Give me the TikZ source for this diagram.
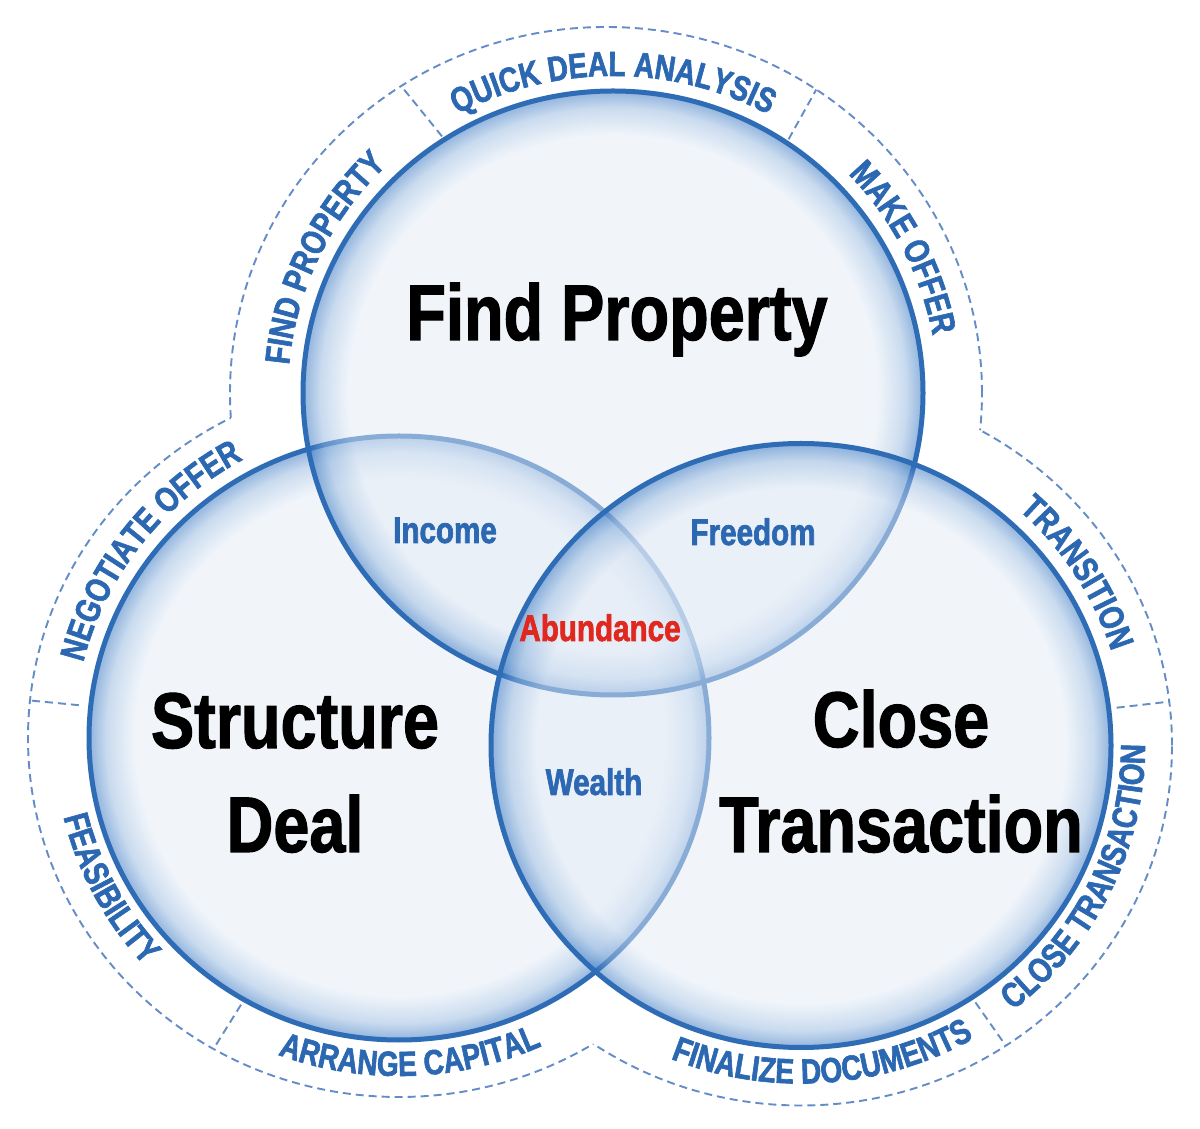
\documentclass[tikz,border=0pt]{standalone}
\usepackage{fontspec}
\usetikzlibrary{calc,decorations.text}
\newfontfamily\cbold{Liberation Sans}[FakeStretch=0.82, BoldFeatures={FakeBold=1.4}]
\newfontfamily\rbold{Liberation Sans}[FakeStretch=0.80, BoldFeatures={FakeBold=1.8}]
\definecolor{cblue}{RGB}{46,108,182}
\definecolor{lblue}{RGB}{44,104,178}
\definecolor{ared}{RGB}{224,40,30}
\definecolor{dblue}{RGB}{100,140,198}
\definecolor{gpale}{RGB}{229,237,247}
\definecolor{gmid}{RGB}{150,185,224}
\definecolor{grim}{RGB}{35,105,189}
\pgfdeclareradialshading{glow}{\pgfpoint{0bp}{0bp}}{color(0bp)=(gpale); color(21.3bp)=(gpale); color(23.6bp)=(gmid); color(25bp)=(grim); color(50bp)=(grim)}
\newcommand\titlefont{\cbold\bfseries\fontsize{79}{90}\selectfont}
\newcommand\midfont{\rbold\bfseries\fontsize{37}{40}\selectfont}
\newcommand\ringfont{\rbold\bfseries\fontsize{35}{36}\selectfont}
\begin{document}
\begin{tikzpicture}[x=1pt,y=1pt,
  ringdash/.style={draw=dblue, line width=1.9pt, dash pattern=on 8pt off 5pt},
  glowfill/.style={shading=glow, opacity=0.5},
  rim/.style={draw=cblue, line width=5pt},
  title/.style={font=\titlefont, text=black, anchor=base, inner sep=0pt},
  midlabel/.style={font=\midfont, text=lblue, anchor=base, inner sep=0pt},
  ringtext/.style={decorate, decoration={text along path, text align=center, text color=lblue, text={|\ringfont|#1}}}
]
\fill[white] (0,0) rectangle (1200,1128);
\useasboundingbox (0,0) rectangle (1200,1128);

\coordinate (T) at (613,735);
\coordinate (L) at (399,390);
\coordinate (R) at (801,382.5);
\coordinate (Tr) at (606,735);

% outer dashed contour
\begin{scope}
  \clip (-20,-20) -- (1220,-20) -- (1220,1150) -- (-20,1150) -- cycle
        (770,390) arc[start angle=0, end angle=-360, x radius=371pt, y radius=359pt];
  \clip (-20,-20) -- (1220,-20) -- (1220,1150) -- (-20,1150) -- cycle
        (1172,382.5) arc[start angle=0, end angle=-360, x radius=371pt, y radius=360pt];
  \draw[ringdash] (Tr) ellipse [x radius=376pt, y radius=366pt];
\end{scope}
\begin{scope}
  \clip (-20,-20) -- (1220,-20) -- (1220,1150) -- (-20,1150) -- cycle
        (982,735) arc[start angle=0, end angle=-360, x radius=376pt, y radius=366pt];
  \clip (-20,-20) -- (1220,-20) -- (1220,1150) -- (-20,1150) -- cycle
        (1172,382.5) arc[start angle=0, end angle=-360, x radius=371pt, y radius=360pt];
  \draw[ringdash] (L) ellipse [x radius=371pt, y radius=359pt];
\end{scope}
\begin{scope}
  \clip (-20,-20) -- (1220,-20) -- (1220,1150) -- (-20,1150) -- cycle
        (982,735) arc[start angle=0, end angle=-360, x radius=376pt, y radius=366pt];
  \clip (-20,-20) -- (1220,-20) -- (1220,1150) -- (-20,1150) -- cycle
        (770,390) arc[start angle=0, end angle=-360, x radius=371pt, y radius=359pt];
  \draw[ringdash] (R) ellipse [x radius=371pt, y radius=360pt];
\end{scope}

% dividers
\coordinate (d1a) at ($(T)+(123:314 and 306)$);
\coordinate (d1b) at ($(Tr)+(123:376 and 366)$);
\coordinate (d2a) at ($(T)+(56:314 and 306)$);
\coordinate (d2b) at ($(Tr)+(56:376 and 366)$);
\coordinate (d3a) at ($(L)+(174:322 and 314)$);
\coordinate (d3b) at ($(L)+(174:371 and 359)$);
\coordinate (d4a) at ($(L)+(240:316 and 308)$);
\coordinate (d4b) at ($(L)+(240:371 and 359)$);
\coordinate (d6a) at ($(R)+(303.5:316 and 308)$);
\coordinate (d6b) at ($(R)+(303.5:371 and 360)$);
\coordinate (d7a) at ($(R)+(7:318 and 310)$);
\coordinate (d7b) at ($(R)+(7:371 and 360)$);
\draw[ringdash] (d1a) -- (d1b);
\draw[ringdash] (d2a) -- (d2b);
\draw[ringdash] (d3a) -- (d3b);
\draw[ringdash] (d4a) -- (d4b);
\draw[ringdash] (d6a) -- (d6b);
\draw[ringdash] (d7a) -- (d7b);

% circles
\shade[glowfill] (L) ellipse [x radius=310pt, y radius=302pt];
\draw[rim] (L) ellipse [x radius=310pt, y radius=302pt];
\shade[glowfill] (T) ellipse [x radius=310pt, y radius=302pt];
\draw[rim] (T) ellipse [x radius=310pt, y radius=302pt];
\shade[glowfill] (R) ellipse [x radius=310pt, y radius=302pt];
\draw[rim] (R) ellipse [x radius=310pt, y radius=302pt];

% ring labels
\path[ringtext={FIND PROPERTY}] ($(T)+(245:325 and 317)$) arc[start angle=245, end angle=65, x radius=325pt, y radius=317pt];
\path[ringtext={QUICK DEAL ANALYSIS}] ($(T)+(180:325 and 317)$) arc[start angle=180, end angle=0, x radius=325pt, y radius=317pt];
\path[ringtext={MAKE OFFER}] ($(T)+(116.5:325 and 317)$) arc[start angle=116.5, end angle=-63.5, x radius=325pt, y radius=317pt];
\path[ringtext={NEGOTIATE OFFER}] ($(L)+(233:325 and 317)$) arc[start angle=233, end angle=53, x radius=325pt, y radius=317pt];
\path[ringtext={FEASIBILITY}] ($(L)+(117.5:345 and 337)$) arc[start angle=117.5, end angle=297.5, x radius=345pt, y radius=337pt];
\path[ringtext={ARRANGE CAPITAL}] ($(L)+(182:346 and 338)$) arc[start angle=182, end angle=362, x radius=346pt, y radius=338pt];
\path[ringtext={FINALIZE DOCUMENTS}] ($(R)+(184:346 and 338)$) arc[start angle=184, end angle=364, x radius=346pt, y radius=338pt];
\path[ringtext={CLOSE TRANSACTION}] ($(R)+(-115.5:344 and 336)$) arc[start angle=-115.5, end angle=64.5, x radius=344pt, y radius=336pt];
\path[ringtext={TRANSITION}] ($(R)+(122:325 and 317)$) arc[start angle=122, end angle=-58, x radius=325pt, y radius=317pt];

% titles
\node[title] (findprop) at (617,788) {Find Property};
\node[title] (struct1) at (295,380) {Structure};
\node[title] (struct2) at (295,276) {Deal};
\node[title] (close1) at (901,381) {Close};
\node[title] (close2) at (901,276) {Transaction};

% intersection labels
\node[midlabel] (income) at (445,585) {Income};
\node[midlabel] (freedom) at (753,583) {Freedom};
\node[midlabel, text=ared] (abundance) at (600,487) {Abundance};
\node[midlabel] (wealth) at (594,333) {Wealth};
\end{tikzpicture}
\end{document}
